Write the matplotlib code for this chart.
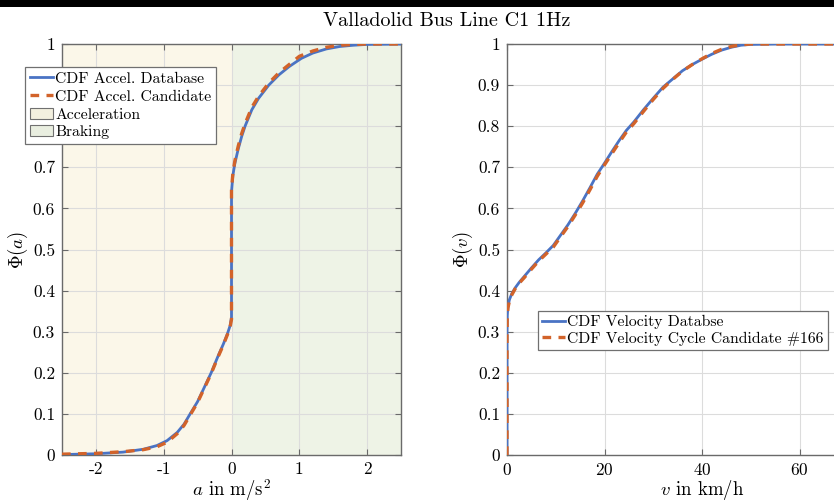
import matplotlib
matplotlib.use("Agg")
import matplotlib.pyplot as plt
from matplotlib.lines import Line2D
from matplotlib.patches import Patch, Rectangle

plt.rcParams['font.family'] = ['cmr10', 'DejaVu Serif']
plt.rcParams['mathtext.fontset'] = 'cm'
plt.rcParams['axes.unicode_minus'] = False
plt.rcParams['axes.formatter.use_mathtext'] = True

# ---------------- data ----------------
title = "Valladolid Bus Line C1 1Hz"

accel_db = [-2.5, -2.0, -1.6, -1.3, -1.1, -0.95, -0.8, -0.7, -0.61, -0.5, -0.4, -0.3, -0.2,
            -0.12, -0.06, -0.02, 0.0,
            0.0, 0.02, 0.05, 0.1, 0.15, 0.2, 0.3, 0.4, 0.55, 0.7, 0.85, 1.03, 1.2, 1.4,
            1.6, 1.8, 2.0, 2.5]
cdf_accel_db = [0.001, 0.003, 0.007, 0.014, 0.023, 0.035, 0.055, 0.075, 0.10, 0.13, 0.165, 0.20, 0.24,
                0.27, 0.295, 0.315, 0.335,
                0.64, 0.68, 0.71, 0.745, 0.775, 0.80, 0.84, 0.868, 0.90, 0.925, 0.945, 0.965, 0.978, 0.988,
                0.994, 0.997, 0.999, 1.0]

accel_cand = [-2.5, -2.0, -1.6, -1.3, -1.1, -0.95, -0.8, -0.7, -0.6, -0.5, -0.4, -0.3, -0.2,
              -0.12, -0.06, -0.02, 0.0,
              0.0, 0.02, 0.05, 0.1, 0.15, 0.2, 0.3, 0.4, 0.55, 0.7, 0.85, 1.0, 1.2, 1.4,
              1.6, 1.8, 2.0, 2.5]
cdf_accel_cand = [0.002, 0.004, 0.008, 0.013, 0.02, 0.031, 0.052, 0.072, 0.10, 0.128, 0.163, 0.198, 0.238,
                  0.268, 0.293, 0.312, 0.33,
                  0.645, 0.685, 0.716, 0.752, 0.782, 0.806, 0.846, 0.873, 0.905, 0.93, 0.95, 0.97, 0.983, 0.992,
                  0.997, 0.999, 1.0, 1.0]

vel_db = [0, 0, 0.05, 0.2, 0.5, 1.0, 1.7, 2.5, 3.5, 5.0, 6.5, 8.0, 9.5, 11.0, 12.5, 14.0, 15.5,
          17.0, 18.5, 20.0, 21.5, 23.0, 24.5, 26.0, 28.0, 30.0, 32.0, 34.0, 36.0, 38.0, 40.0,
          42.0, 44.0, 46.0, 48.0, 50.0, 55.0, 85.0]
cdf_vel_db = [0.0, 0.30, 0.34, 0.362, 0.378, 0.393, 0.407, 0.42, 0.434, 0.455, 0.475, 0.492, 0.51, 0.535,
              0.56, 0.588, 0.618, 0.65, 0.683, 0.71, 0.738, 0.765, 0.79, 0.81, 0.84, 0.868, 0.895, 0.915,
              0.935, 0.95, 0.963, 0.975, 0.985, 0.992, 0.997, 0.999, 1.0, 1.0]

vel_cand = [0, 0, 0.05, 0.2, 0.5, 1.0, 1.7, 2.5, 3.5, 5.0, 6.5, 8.0, 9.5, 11.0, 12.5, 14.0, 15.5,
            17.0, 18.5, 20.0, 21.5, 23.0, 24.5, 26.0, 28.0, 30.0, 32.0, 34.0, 36.0, 38.0, 40.0,
            42.0, 44.0, 46.0, 48.0, 50.0, 55.0, 85.0]
cdf_vel_cand = [0.0, 0.29, 0.335, 0.358, 0.375, 0.39, 0.405, 0.418, 0.431, 0.452, 0.472, 0.489, 0.506, 0.531,
                0.556, 0.584, 0.613, 0.645, 0.678, 0.706, 0.733, 0.76, 0.786, 0.806, 0.836, 0.865, 0.892, 0.914,
                0.934, 0.95, 0.964, 0.977, 0.987, 0.994, 0.998, 1.0, 1.0, 1.0]

accel_xticks = [-2, -1, 0, 1, 2]
accel_xticklabels = ["-2", "-1", "0", "1", "2"]
vel_xticks = [0, 20, 40, 60]
yticks = [0, 0.1, 0.2, 0.3, 0.4, 0.5, 0.6, 0.7, 0.8, 0.9, 1.0]
yticklabels = ["0", "0.1", "0.2", "0.3", "0.4", "0.5", "0.6", "0.7", "0.8", "0.9", "1"]

accel_legend = ["CDF Accel. Database", "CDF Accel. Candidate", "Acceleration", "Braking"]
vel_legend = ["CDF Velocity Databse", "CDF Velocity Cycle Candidate #166"]

# ---------------- style ----------------
BLUE = '#4a73c4'
ORANGE = '#d2632a'
YEL = '#fbf7e9'
GRN = '#eef3e6'
SPINE = '#6a6a6a'
TFS = 12.5

fig = plt.figure(figsize=(8.34, 5.04), dpi=100)
fig.patches.append(Rectangle((0, 1 - 7/504), 1, 7/504, transform=fig.transFigure,
                             facecolor='black', edgecolor='none', zorder=10))

ax1 = fig.add_axes([62/834, 49/504, 339/834, 411/504])
ax2 = fig.add_axes([507/834, 49/504, 390/834, 411/504])

def style(ax):
    ax.grid(True, color='#dcdcdc', lw=0.8)
    ax.set_axisbelow(True)
    ax.tick_params(direction='in', top=True, right=True, length=4, width=0.8,
                   color=SPINE, labelsize=TFS, pad=5)
    for s in ax.spines.values():
        s.set_color(SPINE)
        s.set_linewidth(1.0)
    ax.set_ylim(0, 1)
    ax.set_yticks(yticks)
    ax.set_yticklabels(yticklabels)

# left
ax1.axvspan(-2.5, 0, color=YEL, zorder=0, lw=0)
ax1.axvspan(0, 2.5, color=GRN, zorder=0, lw=0)
ax1.plot(accel_db, cdf_accel_db, color=BLUE, lw=2.0, zorder=3)
ax1.plot(accel_cand, cdf_accel_cand, color=ORANGE, lw=2.4, dashes=(2.6, 2.2), zorder=4)
ax1.set_xlim(-2.5, 2.5)
style(ax1)
ax1.set_xticks(accel_xticks)
ax1.set_xticklabels(accel_xticklabels)
ax1.set_xlabel(r"$a$ in m/s$^2$", fontsize=TFS + 1, labelpad=0)
ax1.set_ylabel(r"$\Phi(a)$", fontsize=TFS + 1, labelpad=2)

handles1 = [Line2D([], [], color=BLUE, lw=2.0),
            Line2D([], [], color=ORANGE, lw=2.4, dashes=(2.6, 2.2)),
            Patch(facecolor='#f3f0df', edgecolor='#707070', lw=0.8),
            Patch(facecolor='#e9eee0', edgecolor='#707070', lw=0.8)]
leg1 = fig.legend(handles1, accel_legend, loc='upper left',
                  bbox_to_anchor=(25/834, 1 - 67/504), fontsize=11.3,
                  handlelength=1.5, handletextpad=0.12, borderpad=0.3, labelspacing=0.25,
                  fancybox=False, edgecolor='#707070', framealpha=1, borderaxespad=0)
leg1.get_frame().set_linewidth(0.9)

# right
ax2.plot(vel_db, cdf_vel_db, color=BLUE, lw=2.0, zorder=3)
ax2.plot(vel_cand, cdf_vel_cand, color=ORANGE, lw=2.4, dashes=(2.6, 2.2), zorder=4)
ax2.set_xlim(0, 80)
style(ax2)
ax2.set_xticks(vel_xticks)
ax2.set_xlabel(r"$v$ in km/h", fontsize=TFS + 1, labelpad=0)
ax2.set_ylabel(r"$\Phi(v)$", fontsize=TFS + 1, labelpad=2)

handles2 = [Line2D([], [], color=BLUE, lw=2.0),
            Line2D([], [], color=ORANGE, lw=2.4, dashes=(2.6, 2.2))]
leg2 = fig.legend(handles2, vel_legend, loc='upper left',
                  bbox_to_anchor=(538/834, 1 - 311/504), fontsize=11.3,
                  handlelength=1.5, handletextpad=0.12, borderpad=0.25, labelspacing=0.15,
                  fancybox=False, edgecolor='#707070', framealpha=1, borderaxespad=0)
leg2.get_frame().set_linewidth(0.9)

fig.text(447/834, 1 - 21/504, title, ha='center', va='center', fontsize=14.5)

fig.savefig("out.png", dpi=100)
